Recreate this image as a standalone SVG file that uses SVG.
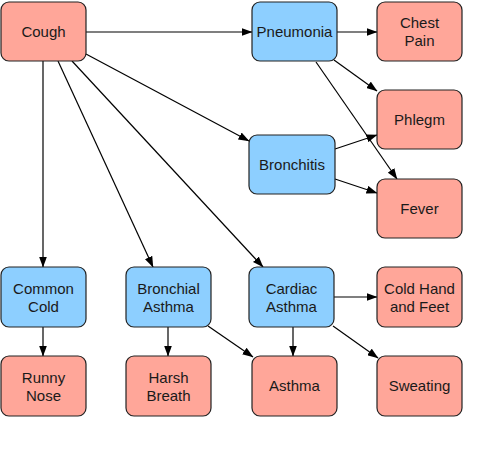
<svg xmlns="http://www.w3.org/2000/svg" width="478" height="450" viewBox="0 0 478 450">
<style>
.s rect{fill:#FFA699;stroke:#222;stroke-width:1.2}
.c rect{fill:#8DCFFF;stroke:#222;stroke-width:1.2}
text{font-family:"Liberation Sans",Arial,sans-serif;font-size:15px;fill:#1a1a1a;text-anchor:middle}
#edges line{stroke:#000;stroke-width:1.2;marker-end:url(#a)}
</style>
<defs>
<marker id="a" markerWidth="11" markerHeight="8" refX="10.5" refY="4" orient="auto" markerUnits="userSpaceOnUse">
<path d="M0,0 L11,4 L0,8 Z" fill="#000"/>
</marker>
</defs>
<rect width="478" height="450" fill="#fff"/>
<g id="edges">
<line x1="86" y1="32" x2="252" y2="32"/>
<line x1="86" y1="54" x2="249" y2="141"/>
<line x1="43" y1="61" x2="43" y2="267"/>
<line x1="58" y1="61" x2="153" y2="267"/>
<line x1="72" y1="61" x2="263" y2="267"/>
<line x1="337" y1="32" x2="377" y2="32"/>
<line x1="334" y1="60" x2="377" y2="91"/>
<line x1="316" y1="62" x2="397" y2="179"/>
<line x1="335" y1="149" x2="377" y2="135"/>
<line x1="335" y1="179" x2="377" y2="193"/>
<line x1="43" y1="327" x2="43" y2="356"/>
<line x1="168" y1="327" x2="168" y2="356"/>
<line x1="208" y1="326" x2="253" y2="357"/>
<line x1="293" y1="327" x2="293" y2="356"/>
<line x1="334" y1="297" x2="377" y2="297"/>
<line x1="333" y1="326" x2="378" y2="358"/>
</g>
<g id="cough" class="s"><rect x="1" y="2" width="85" height="59" rx="8"/><text x="43.5" y="37">Cough</text></g>
<g id="pneumonia" class="c"><rect x="252" y="2" width="85" height="59" rx="8"/><text x="294.5" y="37">Pneumonia</text></g>
<g id="chestpain" class="s"><rect x="377" y="2" width="85" height="59" rx="8"/><text x="419.5" y="28">Chest</text><text x="419.5" y="46">Pain</text></g>
<g id="phlegm" class="s"><rect x="377" y="90" width="85" height="59" rx="8"/><text x="419.5" y="125">Phlegm</text></g>
<g id="bronchitis" class="c"><rect x="249" y="135" width="86" height="59" rx="8"/><text x="292" y="170">Bronchitis</text></g>
<g id="fever" class="s"><rect x="377" y="179" width="85" height="59" rx="8"/><text x="419.5" y="214">Fever</text></g>
<g id="commoncold" class="c"><rect x="1" y="267" width="85" height="60" rx="8"/><text x="43.5" y="294">Common</text><text x="43.5" y="312">Cold</text></g>
<g id="bronchialasthma" class="c"><rect x="126" y="267" width="85" height="60" rx="8"/><text x="168.5" y="294">Bronchial</text><text x="168.5" y="312">Asthma</text></g>
<g id="cardiacasthma" class="c"><rect x="249" y="267" width="85" height="60" rx="8"/><text x="291.5" y="294">Cardiac</text><text x="291.5" y="312">Asthma</text></g>
<g id="coldhand" class="s"><rect x="377" y="267" width="85" height="60" rx="8"/><text x="419.5" y="294">Cold Hand</text><text x="419.5" y="312">and Feet</text></g>
<g id="runnynose" class="s"><rect x="1" y="356" width="85" height="60" rx="8"/><text x="43.5" y="383">Runny</text><text x="43.5" y="401">Nose</text></g>
<g id="harshbreath" class="s"><rect x="126" y="356" width="85" height="60" rx="8"/><text x="168.5" y="383">Harsh</text><text x="168.5" y="401">Breath</text></g>
<g id="asthma" class="s"><rect x="252" y="356" width="85" height="60" rx="8"/><text x="294.5" y="391">Asthma</text></g>
<g id="sweating" class="s"><rect x="377" y="356" width="85" height="60" rx="8"/><text x="419.5" y="391">Sweating</text></g>
</svg>
